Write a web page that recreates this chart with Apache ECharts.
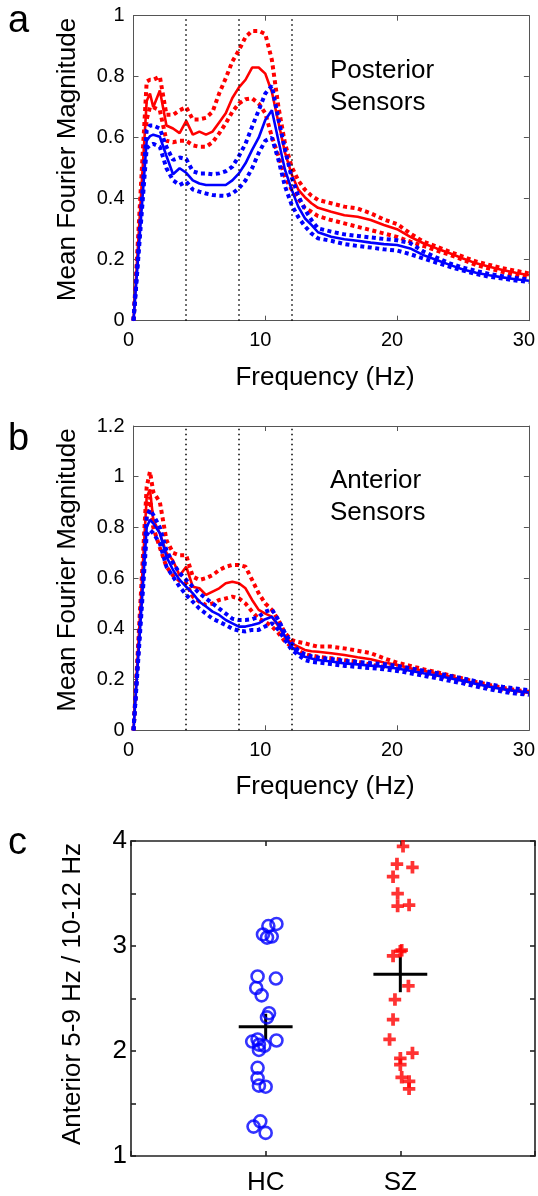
<!DOCTYPE html>
<html>
<head>
<meta charset="utf-8">
<script src="https://cdn.jsdelivr.net/npm/echarts@6/dist/echarts.min.js"></script>
<style>
  html, body { margin: 0; padding: 0; background: #fff; }
  #chart { width: 538px; height: 1196px; }
</style>
</head>
<body>
<div id="chart"></div>
<script>
// frequency grid (Hz) shared by panels a and b
const freqs = [0, 1, 1.25, 1.5, 2, 2.5, 3, 3.5, 4, 4.5, 5, 5.5, 6, 6.5, 7, 7.5, 8, 8.5, 9, 9.5, 10, 10.5, 11, 11.5, 12, 12.5, 13, 13.5, 14,
  15, 16, 17, 18, 19, 20, 21, 22, 23, 24, 25, 26, 27, 28, 29, 30]

// a: posterior sensors (mean and +/- SEM), SZ red / HC blue
const postSz = [0, 0.72, 0.745, 0.70, 0.755, 0.64, 0.63, 0.615, 0.655, 0.61, 0.62, 0.61, 0.62, 0.65, 0.68, 0.73, 0.765, 0.79, 0.83, 0.83, 0.81, 0.75, 0.65, 0.55, 0.48, 0.43, 0.405, 0.385, 0.37,
  0.357, 0.346, 0.341, 0.33, 0.314, 0.30, 0.275, 0.254, 0.237, 0.221, 0.204, 0.188, 0.177, 0.166, 0.157, 0.149]
const postSzHi = [0, 0.784, 0.79, 0.79, 0.80, 0.675, 0.675, 0.69, 0.70, 0.66, 0.66, 0.665, 0.685, 0.745, 0.795, 0.85, 0.887, 0.93, 0.95, 0.95, 0.94, 0.855, 0.70, 0.58, 0.505, 0.46, 0.43, 0.41, 0.396,
  0.385, 0.374, 0.368, 0.352, 0.332, 0.317, 0.286, 0.259, 0.243, 0.226, 0.21, 0.194, 0.183, 0.172, 0.164, 0.155]
const postSzLo = [0, 0.66, 0.70, 0.70, 0.69, 0.59, 0.585, 0.59, 0.59, 0.575, 0.57, 0.57, 0.585, 0.614, 0.647, 0.685, 0.712, 0.726, 0.729, 0.712, 0.68, 0.603, 0.54, 0.47, 0.43, 0.40, 0.37, 0.357, 0.343,
  0.33, 0.319, 0.308, 0.297, 0.286, 0.275, 0.259, 0.245, 0.23, 0.216, 0.2, 0.182, 0.171, 0.16, 0.149, 0.142]
const postHc = [0, 0.59, 0.605, 0.61, 0.603, 0.54, 0.48, 0.50, 0.485, 0.46, 0.45, 0.445, 0.445, 0.445, 0.445, 0.46, 0.483, 0.516, 0.56, 0.60, 0.658, 0.69, 0.59, 0.494, 0.43, 0.374, 0.336, 0.314, 0.29,
  0.275, 0.267, 0.262, 0.256, 0.251, 0.248, 0.237, 0.215, 0.199, 0.183, 0.168, 0.157, 0.149, 0.142, 0.136, 0.131]
const postHcHi = [0, 0.625, 0.64, 0.64, 0.63, 0.57, 0.527, 0.535, 0.53, 0.49, 0.483, 0.483, 0.48, 0.483, 0.49, 0.505, 0.54, 0.58, 0.636, 0.69, 0.745, 0.77, 0.66, 0.56, 0.47, 0.41, 0.365, 0.33, 0.303,
  0.292, 0.283, 0.278, 0.273, 0.268, 0.264, 0.254, 0.227, 0.207, 0.188, 0.174, 0.163, 0.153, 0.146, 0.14, 0.135]
const postHcLo = [0, 0.565, 0.575, 0.58, 0.57, 0.50, 0.46, 0.445, 0.456, 0.43, 0.423, 0.417, 0.412, 0.41, 0.409, 0.417, 0.434, 0.46, 0.50, 0.55, 0.59, 0.60, 0.527, 0.44, 0.38, 0.34, 0.31, 0.286, 0.27,
  0.262, 0.251, 0.245, 0.24, 0.234, 0.23, 0.218, 0.204, 0.19, 0.177, 0.164, 0.153, 0.144, 0.138, 0.132, 0.127]

// b: anterior sensors
const antSz = [0, 0.92, 0.95, 0.83, 0.777, 0.70, 0.67, 0.61, 0.645, 0.566, 0.56, 0.534, 0.547, 0.56, 0.58, 0.586, 0.58, 0.56, 0.514, 0.475, 0.46, 0.448, 0.41, 0.37, 0.343, 0.33, 0.317, 0.312, 0.31,
  0.304, 0.297, 0.288, 0.28, 0.267, 0.258, 0.245, 0.235, 0.225, 0.212, 0.198, 0.185, 0.175, 0.164, 0.156, 0.148]
const antSzHi = [0, 0.96, 1.02, 0.94, 0.90, 0.75, 0.70, 0.69, 0.69, 0.606, 0.593, 0.60, 0.612, 0.632, 0.645, 0.652, 0.652, 0.645, 0.593, 0.54, 0.50, 0.475, 0.435, 0.383, 0.356, 0.348, 0.343, 0.336, 0.33,
  0.33, 0.323, 0.314, 0.304, 0.284, 0.267, 0.254, 0.241, 0.229, 0.217, 0.204, 0.191, 0.179, 0.168, 0.159, 0.152]
const antSzLo = [0, 0.85, 0.92, 0.80, 0.72, 0.645, 0.61, 0.59, 0.58, 0.527, 0.507, 0.494, 0.50, 0.514, 0.52, 0.527, 0.52, 0.50, 0.468, 0.44, 0.428, 0.41, 0.383, 0.35, 0.33, 0.315, 0.30, 0.295, 0.29,
  0.284, 0.277, 0.271, 0.258, 0.251, 0.244, 0.235, 0.225, 0.214, 0.204, 0.192, 0.18, 0.17, 0.159, 0.151, 0.143]
const antHc = [0, 0.80, 0.83, 0.816, 0.777, 0.685, 0.632, 0.593, 0.566, 0.54, 0.507, 0.488, 0.468, 0.455, 0.435, 0.422, 0.409, 0.409, 0.415, 0.422, 0.438, 0.448, 0.415, 0.37, 0.33, 0.304, 0.29, 0.283, 0.277,
  0.271, 0.264, 0.26, 0.255, 0.251, 0.244, 0.235, 0.225, 0.216, 0.205, 0.195, 0.183, 0.172, 0.162, 0.155, 0.149]
const antHcHi = [0, 0.843, 0.87, 0.85, 0.80, 0.71, 0.66, 0.62, 0.593, 0.566, 0.54, 0.52, 0.50, 0.48, 0.46, 0.44, 0.435, 0.435, 0.438, 0.448, 0.468, 0.477, 0.435, 0.383, 0.343, 0.315, 0.30, 0.292, 0.287,
  0.281, 0.274, 0.27, 0.265, 0.261, 0.254, 0.245, 0.235, 0.226, 0.215, 0.205, 0.193, 0.182, 0.172, 0.165, 0.158]
const antHcLo = [0, 0.77, 0.79, 0.777, 0.737, 0.645, 0.606, 0.566, 0.534, 0.507, 0.48, 0.46, 0.44, 0.428, 0.415, 0.40, 0.393, 0.39, 0.396, 0.396, 0.41, 0.422, 0.396, 0.356, 0.317, 0.297, 0.277, 0.27, 0.267,
  0.261, 0.254, 0.25, 0.245, 0.241, 0.234, 0.225, 0.215, 0.206, 0.195, 0.185, 0.173, 0.162, 0.152, 0.145, 0.14]

// band edges (Hz) marked with dotted lines
const bandEdges = [4, 8, 12]

// c: anterior 5-9 Hz / 10-12 Hz ratio per subject
const groups = ['HC', 'SZ']
const hcRatio = [3.21, 3.19, 3.11, 3.09, 3.08, 2.71, 2.69, 2.60, 2.53, 2.36, 2.32, 2.11, 2.10, 2.09, 2.06, 2.05, 2.01, 1.84, 1.74, 1.67, 1.66, 1.33, 1.28, 1.22]
const hcX = [1.08, 1.02, 0.98, 1.045, 1.01, 0.94, 1.076, 0.93, 0.97, 1.025, 1.01, 0.94, 1.08, 0.9, 0.95, 0.99, 0.95, 0.94, 0.94, 0.95, 1.0, 0.96, 0.91, 1.0]
const szRatio = [3.95, 3.78, 3.75, 3.66, 3.50, 3.39, 3.38, 2.96, 2.95, 2.905, 2.62, 2.49, 2.30, 2.11, 1.98, 1.93, 1.87, 1.75, 1.71, 1.64]
const szX = [2.02, 1.975, 2.09, 1.946, 1.98, 2.065, 1.98, 2.01, 2.0, 1.946, 2.06, 1.96, 1.946, 1.92, 2.09, 2.0, 2.0, 2.01, 2.065, 2.065]
const groupMean = [2.23, 2.73]
const groupSem = [0.125, 0.17]

const FONT = '"Liberation Sans", Arial, Helvetica, sans-serif'
const RED = '#ff0000'
const BLUE = '#0000ff'

const chart = echarts.init(document.getElementById('chart'))

// one axis of a boxed (matlab-like) frame
function axis(grid, position, min, max, interval, opts) {
  opts = opts || {}
  const lineColor = opts.lineColor || '#555'
  return {
    type: 'value', gridIndex: grid, position, min, max, interval,
    axisLine: { show: true, onZero: false, lineStyle: { color: lineColor, width: opts.lineWidth || 1 } },
    axisTick: { show: true, inside: true, length: 5, lineStyle: { color: lineColor, width: opts.lineWidth || 1 } },
    axisLabel: opts.labels ? Object.assign({
      show: true, color: '#000', fontFamily: FONT, fontSize: opts.fontSize || 20, margin: opts.margin || 9
    }, opts.labels) : { show: false },
    splitLine: { show: false }
  }
}

function curve(panel, vals, color, dotted) {
  return {
    type: 'line', xAxisIndex: panel * 2, yAxisIndex: panel * 2,
    data: freqs.map((f, i) => [f, vals[i]]),
    symbol: 'none', silent: true,
    lineStyle: dotted ? { color, width: 4, type: [4, 3.5], cap: 'butt' } : { color, width: 2.6 }
  }
}

function bandLines() {
  return {
    symbol: 'none', silent: true, label: { show: false },
    lineStyle: { color: '#000', width: 1.5, type: [1.5, 3.5] },
    data: bandEdges.map(f => ({ xAxis: f }))
  }
}

function txt(text, x, y, size, align, rotation) {
  return {
    type: 'text', x, y, rotation: rotation || 0, silent: true,
    style: {
      text, fill: '#000', font: size + 'px ' + FONT,
      align: align || 'center', verticalAlign: 'middle',
      textAlign: align || 'center', textVerticalAlign: 'middle'
    }
  }
}

const xLabShift = { padding: [0, 10, 0, 0] }

const panelA = [
  curve(0, postSz, RED, false),
  curve(0, postSzHi, RED, true),
  curve(0, postSzLo, RED, true),
  curve(0, postHc, BLUE, false),
  curve(0, postHcHi, BLUE, true),
  curve(0, postHcLo, BLUE, true)
]
panelA[0].markLine = bandLines()

const panelB = [
  curve(1, antSz, RED, false),
  curve(1, antSzHi, RED, true),
  curve(1, antSzLo, RED, true),
  curve(1, antHc, BLUE, false),
  curve(1, antHcHi, BLUE, true),
  curve(1, antHcLo, BLUE, true)
]
panelB[0].markLine = bandLines()

const plusPath = 'path://M4.2,0H7.8V4.2H12V7.8H7.8V12H4.2V7.8H0V4.2H4.2Z'

const panelC = [
  {
    type: 'scatter', xAxisIndex: 4, yAxisIndex: 4, silent: true,
    data: hcX.map((x, i) => [x, hcRatio[i]]),
    symbol: 'circle', symbolSize: 12,
    itemStyle: { color: 'rgba(0,0,0,0)', borderColor: BLUE, borderWidth: 2.6 }
  },
  {
    type: 'scatter', xAxisIndex: 4, yAxisIndex: 4, silent: true,
    data: szX.map((x, i) => [x, szRatio[i]]),
    symbol: plusPath, symbolSize: 12.5,
    itemStyle: { color: RED }
  },
  {
    // group mean with +/- SEM bar
    type: 'custom', xAxisIndex: 4, yAxisIndex: 4, silent: true,
    data: groupMean.map((m, i) => [i + 1, m, groupSem[i]]),
    renderItem: (params, api) => {
      const x = api.value(0), m = api.value(1), s = api.value(2)
      const a = api.coord([x - 0.2, m]), b = api.coord([x + 0.2, m])
      const c = api.coord([x, m + s]), d = api.coord([x, m - s])
      const st = { stroke: '#000', lineWidth: 3 }
      return {
        type: 'group', children: [
          { type: 'line', shape: { x1: a[0], y1: a[1], x2: b[0], y2: b[1] }, style: st },
          { type: 'line', shape: { x1: c[0], y1: c[1], x2: d[0], y2: d[1] }, style: st }
        ]
      }
    }
  }
]

const option = {
  animation: false,
  backgroundColor: '#fff',
  grid: [
    { left: 133.5, top: 15.7, width: 398.5, height: 305 },
    { left: 133.5, top: 426, width: 398.5, height: 304.3 },
    { left: 131, top: 841, width: 404, height: 317.3 }
  ],
  xAxis: [
    axis(0, 'bottom', 0, 30, 10, { labels: xLabShift, margin: 10 }),
    axis(0, 'top', 0, 30, 10),
    axis(1, 'bottom', 0, 30, 10, { labels: xLabShift, margin: 10 }),
    axis(1, 'top', 0, 30, 10),
    axis(2, 'bottom', 0, 3, 1, {
      lineColor: '#222', lineWidth: 1.6, fontSize: 26, margin: 14,
      labels: { formatter: v => groups[v - 1] || '' }
    }),
    axis(2, 'top', 0, 3, 1, { lineColor: '#222', lineWidth: 1.6 })
  ],
  yAxis: [
    axis(0, 'left', 0, 1, 0.2, { labels: {} }),
    axis(0, 'right', 0, 1, 0.2),
    axis(1, 'left', 0, 1.2, 0.2, { labels: {} }),
    axis(1, 'right', 0, 1.2, 0.2),
    axis(2, 'left', 1, 4, 0.5, {
      lineColor: '#222', lineWidth: 1.6, fontSize: 26, margin: 4,
      labels: { formatter: v => (Number.isInteger(v) ? String(v) : '') }
    }),
    axis(2, 'right', 1, 4, 0.5, { lineColor: '#222', lineWidth: 1.6 })
  ],
  graphic: [
    txt('a', 8, 22, 38, 'left'),
    txt('b', 8, 440, 38, 'left'),
    txt('c', 8, 844, 38, 'left'),
    txt('Mean Fourier Magnitude', 68, 159.5, 26, 'center', Math.PI / 2),
    txt('Mean Fourier Magnitude', 68, 570, 26, 'center', Math.PI / 2),
    txt('Anterior 5-9 Hz / 10-12 Hz', 73, 994, 26, 'center', Math.PI / 2),
    txt('Frequency (Hz)', 325, 377.6, 26),
    txt('Frequency (Hz)', 325, 787.2, 26),
    txt('Posterior', 330, 71, 26, 'left'),
    txt('Sensors', 330, 102.5, 26, 'left'),
    txt('Anterior', 330, 481, 26, 'left'),
    txt('Sensors', 330, 512.5, 26, 'left')
  ],
  series: panelA.concat(panelB, panelC)
}

chart.setOption(option)
</script>
</body>
</html>
